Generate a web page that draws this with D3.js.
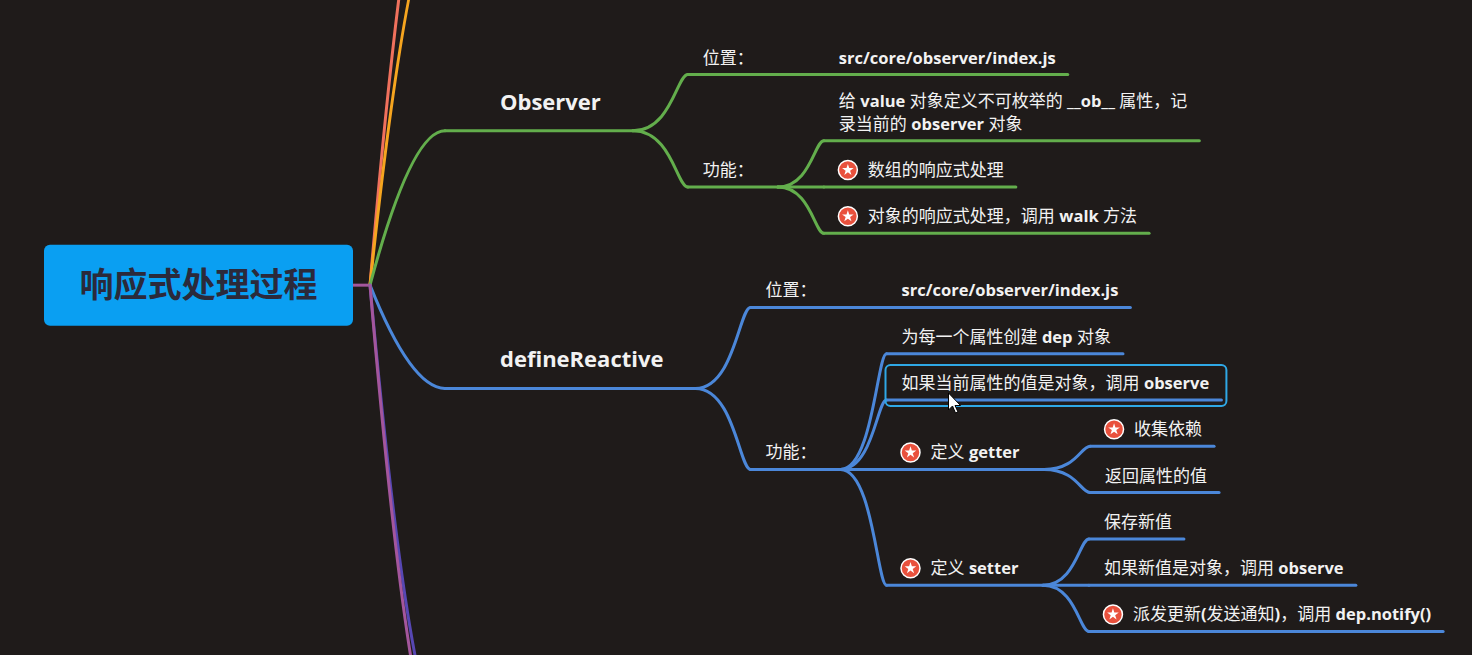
<!DOCTYPE html>
<html>
<head>
<meta charset="utf-8">
<script src="https://cdn.jsdelivr.net/npm/d3@7"></script>
<style>
  body { margin: 0; background: #1f1b1a; overflow: hidden; }
  text { white-space: pre; }
</style>
</head>
<body>
<svg id="map"></svg>
<script>
// mind map nodes (parallel arrays)
var nodeIds = ["root", "r1", "r2", "obs", "def", "r5", "r6",
  "obsPos", "obsFn", "obsPosV", "obsFn1", "obsFn2", "obsFn3",
  "defPos", "defFn", "defPosV", "defFn1", "defFn2", "defFn3", "defFn4",
  "get1", "get2", "set1", "set2", "set3"];
var nodeParents = [null, "root", "root", "root", "root", "root", "root",
  "obs", "obs", "obsPos", "obsFn", "obsFn", "obsFn",
  "def", "def", "defPos", "defFn", "defFn", "defFn", "defFn",
  "defFn3", "defFn3", "defFn4", "defFn4", "defFn4"];
var nodeLabels = ["响应式处理过程", "", "", "Observer", "defineReactive", "", "",
  "位置：", "功能：", "src/core/observer/index.js",
  "给 value 对象定义不可枚举的 __ob__ 属性，记\n录当前的 observer 对象",
  "数组的响应式处理", "对象的响应式处理，调用 walk 方法",
  "位置：", "功能：", "src/core/observer/index.js",
  "为每一个属性创建 dep 对象", "如果当前属性的值是对象，调用 observe",
  "定义 getter", "定义 setter",
  "收集依赖", "返回属性的值",
  "保存新值", "如果新值是对象，调用 observe", "派发更新(发送通知)，调用 dep.notify()"];
var starred = ["obsFn2", "obsFn3", "defFn3", "defFn4", "get1", "set3"];
var selectedId = "defFn2";
// collapsed branches that sit outside the view (row position)
var collapsedRows = { r1: -5.9, r2: -3.8, r5: 14.3, r6: 15.0 };

// styles
var branchColors = { r1: "#f0715d", r2: "#f6a51f", obs: "#63ae4c", def: "#4b87d9", r5: "#5747b3", r6: "#a4569c" };
var textColor = "#f2f2f2";

var screen = { width: 1472, height: 655 };
var twoLineRows = 1.43;   // a two line topic is this many rows tall
var branchGap = 0.6;      // extra rows between main branches
var lineW = 3;

var svg = d3.select("#map")
            .attr("width", screen.width)
            .attr("height", screen.height);

var yScale = d3.scaleLinear()
               .domain([0, 1])
               .range([74.5, 120.8]);

var table = nodeIds.map(function(id, i) {
  return { id: id, parent: nodeParents[i], label: nodeLabels[i], star: starred.indexOf(id) >= 0 };
});
var root = d3.stratify()
             .id(function(d) { return d.id; })
             .parentId(function(d) { return d.parent; })(table);

// ---- vertical layout: rows for leaves, parents centred on children
var row = null;
root.children.forEach(function(b) {
  if (collapsedRows[b.id] !== undefined) { b.row = collapsedRows[b.id]; return; }
  b.leaves().forEach(function(l, i) {
    var h = l.data.label.split("\n").length > 1 ? twoLineRows : 1;
    if (row === null) row = 0;
    else row += h + (i === 0 ? branchGap : 0);
    l.row = row;
  });
});
root.eachAfter(function(d) {
  if (d.row !== undefined) d.y = yScale(d.row);
  else if (d.depth > 0) d.y = (d.children[0].y + d.children[d.children.length - 1].y) / 2;
});
root.y = (d3.min(root.children, function(c) { return c.y; }) + d3.max(root.children, function(c) { return c.y; })) / 2;

root.each(function(d) {
  var a = d;
  while (a.depth > 1) a = a.parent;
  d.color = d.depth === 0 ? null : branchColors[a.id];
});

// ---- text first, so widths can be measured
var gLinks = svg.append("g").classed("links", true);
var gLines = svg.append("g").classed("underlines", true);
var gRoot = svg.append("g").classed("rootTopic", true);
var gText = svg.append("g").classed("labels", true);

function addRuns(sel, str) {
  str.split(/([!-~]+)/).forEach(function(part, i) {
    if (!part) return;
    sel.append("tspan")
       .attr("font-weight", i % 2 ? 700 : 400)
       .attr("font-size", i % 2 ? 16.5 : 17)
       .text(part);
  });
}

var nodes = root.descendants().filter(function(d) { return d.depth > 0 && d.data.label; });

var labels = gText.selectAll("g")
  .data(nodes)
  .enter()
  .append("g");

labels.each(function(d) {
  var g = d3.select(this);
  var t = g.append("text")
           .attr("fill", textColor)
           .attr("font-family", "'Open Sans','Noto Sans CJK SC',sans-serif")
           .attr("font-size", d.depth === 1 ? 22 : 17);
  if (d.depth === 1) {
    t.attr("font-weight", 700).text(d.data.label);
  } else {
    var lines = d.data.label.split("\n");
    lines.forEach(function(ln, i) {
      var ts = t.append("tspan").attr("x", 0).attr("dy", i === 0 ? 0 : 23);
      addRuns(ts, ln);
    });
    t.attr("y", -(lines.length - 1) * 23);
  }
  d.iconW = d.data.star ? 29 : 0;
  d.w = t.node().getBBox().width + d.iconW;
  d.textSel = t;
});

// ---- horizontal layout
var rootText = gRoot.append("text")
  .attr("font-family", "'Noto Sans CJK SC',sans-serif")
  .attr("font-weight", 700)
  .attr("font-size", 34)
  .attr("fill", "#2b2a3b")
  .attr("text-anchor", "middle")
  .text(root.data.label);
var rootW = rootText.node().getBBox().width + 71;
var rootH = 81;
var rootLeft = 44;
root.ux = rootLeft + rootW;
root.ax = root.ux + 17;   // where the main branches leave

root.each(function(d) {
  if (d.depth === 0) return;
  var p = d.parent;
  if (d.depth === 1) {
    d.lx = root.ax + 75;
    d.tx = d.lx + 55;
    d.ux = d.tx + (d.w || 0) + 32;
  } else {
    d.tx = p.tx + p.w + (p.depth === 1 ? 102 : 85);
    d.lx = d.tx - 15;
    d.ux = d.tx + d.w + (d.children ? 24 : 12);
  }
});

// ---- root box
gRoot.insert("rect", "text")
  .attr("x", rootLeft)
  .attr("y", root.y - rootH / 2)
  .attr("width", rootW)
  .attr("height", rootH)
  .attr("rx", 6)
  .attr("fill", "#0a9ff2");
rootText.attr("x", rootLeft + rootW / 2).attr("y", root.y + 12);

gLinks.append("line")
  .attr("x1", root.ux).attr("x2", root.ax)
  .attr("y1", root.y).attr("y2", root.y)
  .attr("stroke", branchColors.r6)
  .attr("stroke-width", lineW);

// ---- links
function rootLink(d) {
  var p = d3.path();
  p.moveTo(root.ax, root.y);
  p.quadraticCurveTo(root.ax + 0.55 * (d.lx - root.ax), d.y, d.lx, d.y);
  return p.toString();
}
function branchLink(d) {
  var x0 = d.parent.ux, y0 = d.parent.y, dx = d.lx - x0;
  var p = d3.path();
  p.moveTo(x0, y0);
  p.bezierCurveTo(x0 + 0.7 * dx, y0, x0 + 0.8 * dx, d.y, d.lx, d.y);
  return p.toString();
}

var linked = root.descendants().filter(function(d) { return d.depth > 0; });

gLinks.selectAll("path")
  .data(linked)
  .enter()
  .append("path")
  .attr("d", function(d) { return d.depth === 1 ? rootLink(d) : branchLink(d); })
  .attr("fill", "none")
  .attr("stroke", function(d) { return d.color; })
  .attr("stroke-width", lineW)
  .attr("stroke-linecap", "round");

gLines.selectAll("line")
  .data(nodes)
  .enter()
  .append("line")
  .attr("x1", function(d) { return d.lx; })
  .attr("x2", function(d) { return d.ux; })
  .attr("y1", function(d) { return d.y; })
  .attr("y2", function(d) { return d.y; })
  .attr("stroke", function(d) { return d.color; })
  .attr("stroke-width", lineW)
  .attr("stroke-linecap", "round");

// ---- place labels
labels.each(function(d) {
  d.textSel.attr("transform", "translate(" + (d.tx + d.iconW) + "," + (d.y - (d.depth === 1 ? 21 : 11)) + ")");
});

var star = d3.symbol().type(d3.symbolStar).size(42);
var icons = gText.selectAll("g.icon")
  .data(nodes.filter(function(d) { return d.data.star; }))
  .enter()
  .append("g")
  .classed("icon", true)
  .attr("transform", function(d) { return "translate(" + (d.tx + 9) + "," + (d.y - 17) + ")"; });
icons.append("circle")
  .attr("r", 9.5)
  .attr("fill", "#e9513d")
  .attr("stroke", "#ffffff")
  .attr("stroke-width", 1.5);
icons.append("path")
  .attr("d", star)
  .attr("fill", "#ffffff");

// ---- selection frame and mouse pointer
var sel = root.find(function(d) { return d.id === selectedId; });
svg.append("rect")
  .attr("x", sel.lx - 1)
  .attr("y", sel.y - 35)
  .attr("width", sel.ux - sel.lx + 6)
  .attr("height", 41)
  .attr("rx", 5)
  .attr("fill", "none")
  .attr("stroke", "#2fa8e6")
  .attr("stroke-width", 2);

svg.append("path")
  .attr("d", "M0,0 L0,17 L4,13 L7,20 L9.5,19 L6.5,12.5 L12,12.5 Z")
  .attr("transform", "translate(" + (sel.tx + 47) + "," + (sel.y - 7) + ")")
  .attr("fill", "#ffffff")
  .attr("stroke", "#000000")
  .attr("stroke-width", 1);
</script>
</body>
</html>
